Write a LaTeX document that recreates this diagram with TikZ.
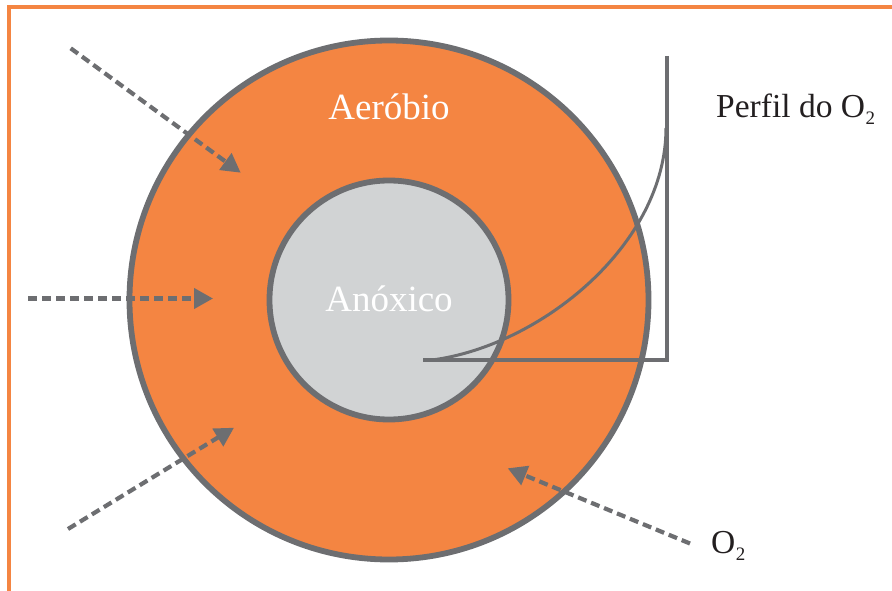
\documentclass[tikz,border=0pt]{standalone}
\usepackage{fontspec}
\setmainfont{Liberation Serif}
\usetikzlibrary{arrows.meta}
\definecolor{orng}{HTML}{F48542}
\definecolor{gry}{HTML}{6D6E71}
\definecolor{lgry}{HTML}{D1D3D4}
\definecolor{txtblk}{HTML}{231F20}
\newcommand{\oxy}{O\kern0.5pt\raisebox{-7pt}{\fontsize{19}{20}\selectfont 2}}
\begin{document}
\begin{tikzpicture}[x=1pt,y=-1pt,
  ring/.style={circle, draw=gry, line width=5.8pt, inner sep=0pt},
  flow/.style={draw=gry, line width=4.2pt, dash pattern=on 9pt off 5pt,
    -{Triangle[length=19pt,width=20pt]}},
  lbl/.style={text=white, font=\fontsize{37}{40}\selectfont, inner sep=0pt, anchor=base},
  blbl/.style={text=txtblk, font=\fontsize{33.5}{36}\selectfont, inner sep=0pt, anchor=base west}]
\useasboundingbox (0,0) rectangle (892,591);
% frame
\draw[orng, line width=4pt] (9.3,591) -- (9.3,7) -- (892,7);
% circles
\node[ring, fill=orng, minimum size=519pt] (outer) at (389,300) {};
\node[ring, fill=lgry, minimum size=239pt] (inner) at (389,300) {};
% labels
\node[lbl] (aer) at (389,120) {Aeróbio};
\node[lbl] (anox) at (389,311) {Anóxico};
\node[blbl] (perfil) at (716,118) {Perfil do \oxy};
\node[blbl] (o2) at (711,553) {\oxy};
% O2 profile
\coordinate (pt) at (667,56);
\coordinate (pc) at (667,360);
\coordinate (ph) at (423,360);
\coordinate (cs) at (432,360);
\coordinate (ce) at (666,128);
\draw[gry, line width=4.6pt, line join=miter] (pt) -- (pc) -- (ph);
\draw[gry, line width=3pt] (cs) .. controls (540,346) and (666,245) .. (ce);
% diffusion arrows
\coordinate (a1) at (70.7,48.3);  \coordinate (b1) at (240.7,172.7);
\coordinate (a2) at (28,298.5);   \coordinate (b2) at (213,298.5);
\coordinate (a3) at (68,529);     \coordinate (b3) at (234,427.7);
\coordinate (a4) at (690,543.5);  \coordinate (b4) at (507.7,468.3);
\draw[flow] (a1) -- (b1);
\draw[flow] (a2) -- (b2);
\draw[flow] (a3) -- (b3);
\draw[flow] (a4) -- (b4);
\end{tikzpicture}
\end{document}
